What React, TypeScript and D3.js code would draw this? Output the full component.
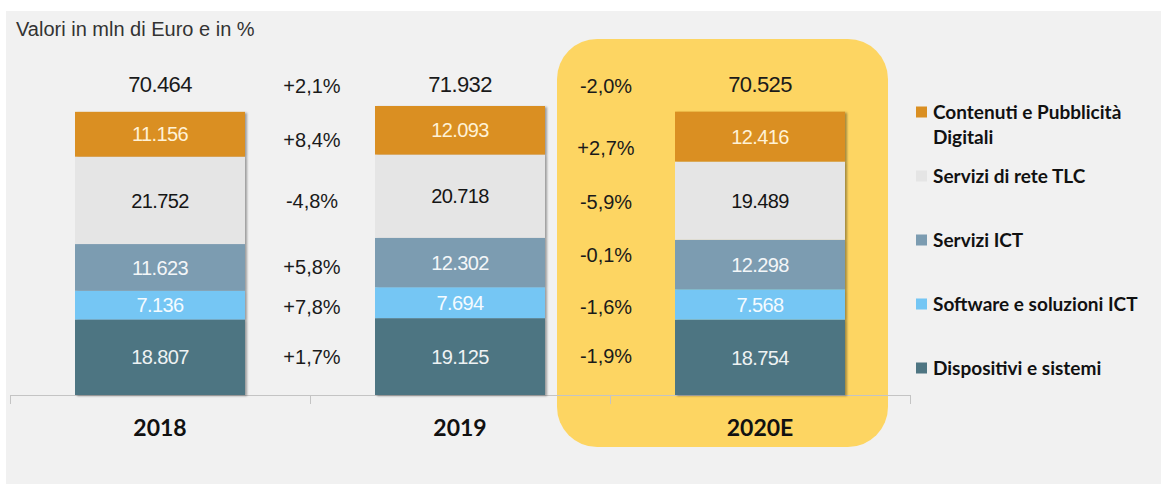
import React from 'react';
import * as d3 from 'd3';

const years = ['2018', '2019', '2020E'];
const segments = [
  'Dispositivi e sistemi',
  'Software e soluzioni ICT',
  'Servizi ICT',
  'Servizi di rete TLC',
  'Contenuti e Pubblicità Digitali',
];
const dispositivi = [18807, 19125, 18754];
const software = [7136, 7694, 7568];
const serviziICT = [11623, 12302, 12298];
const reteTLC = [21752, 20718, 19489];
const contenuti = [11156, 12093, 12416];
const totals = [70464, 71932, 70525];

const totalGrowth = ['+2,1%', '-2,0%'];
// per segment, bottom to top
const growth2019 = ['+1,7%', '+7,8%', '+5,8%', '-4,8%', '+8,4%'];
const growth2020 = ['-1,9%', '-1,6%', '-0,1%', '-5,9%', '+2,7%'];

const colors = ['#4e7582', '#74c6f4', '#7c9cb1', '#e5e5e5', '#da8f22'];
const labelColors = ['#eef2f3', '#f4fbff', '#f3f6f8', '#151515', '#fff2d6'];
// small hand nudges of the growth labels, bottom to top
const growthNudge = [
  [0, 3, 2, 3, 8],
  [-1, 3, -9, 3, 14],
];

const W = 1161;
const H = 484;

export default function App() {
  const series = [dispositivi, software, serviziICT, reteTLC, contenuti];
  const rows = years.map((yr, i) => {
    const r: any = { year: yr };
    segments.forEach((s, k) => (r[s] = series[k][i]));
    return r;
  });
  const stacked = d3.stack().keys(segments)(rows);

  const x = d3.scaleBand().domain(years).range([10, 910]).padding(0);
  const y = d3.scaleLinear().domain([0, d3.max(totals)!]).range([395, 106]);
  const barW = 170;
  const cx = (yr: string) => x(yr)! + x.bandwidth() / 2;
  const fmt = d3.formatLocale({ decimal: ',', thousands: '.', grouping: [3], currency: ['€', ''] }).format(',d');

  const numFont = '"Liberation Sans", Arial, Helvetica, sans-serif';
  const boldFont = 'Lato, "Open Sans", sans-serif';

  const center = (k: number, i: number) => {
    const d = stacked[k][i];
    return (y(d[0]) + y(d[1])) / 2;
  };

  const growthCols = [growth2019, growth2020];
  const legendY = d3.scalePoint<string>().domain([...segments].reverse()).range([112, 368]);

  return (
    <svg width={W} height={H} style={{ position: 'absolute', left: 0, top: 0 }} fontFamily={numFont}>
      <defs>
        <filter id="sh" x="-10%" y="-10%" width="130%" height="130%">
          <feDropShadow dx="2" dy="1" stdDeviation="1.2" floodColor="#000" floodOpacity="0.35" />
        </filter>
      </defs>
      <rect width={W} height={H} fill="#ffffff" />
      <rect x={6} y={11} width={W - 6} height={H - 11} fill="#f1f1f1" />

      <rect x={x('2020E')! - 53} y={39} width={331} height={408} rx={40} fill="#fdd562" />

      <text x={16} y={36} fontSize={20} fill="#333">Valori in mln di Euro e in %</text>

      {/* axis */}
      <line x1={10} x2={910} y1={395.5} y2={395.5} stroke="#c4c4c4" strokeWidth={1} />
      {[...years.map((yr) => x(yr)!), 910].map((t, i) => (
        <line key={i} x1={t + 0.5} x2={t + 0.5} y1={395} y2={404} stroke="#c4c4c4" />
      ))}

      {/* bars */}
      {years.map((yr, i) => (
        <g key={yr}>
          <g filter="url(#sh)">
            {stacked.map((s, k) => (
              <rect
                key={k}
                x={cx(yr) - barW / 2}
                y={y(s[i][1])}
                width={barW}
                height={y(s[i][0]) - y(s[i][1])}
                fill={colors[k]}
              />
            ))}
          </g>
          {stacked.map((s, k) => (
            <text
              key={k}
              x={cx(yr)}
              y={center(k, i)}
              dy="0.36em"
              textAnchor="middle"
              fontSize={20}
              letterSpacing={-0.6}
              fill={labelColors[k]}
            >
              {fmt(series[k][i])}
            </text>
          ))}
          <text x={cx(yr)} y={84} dy="0.36em" textAnchor="middle" fontSize={22} letterSpacing={-0.6} fill="#1a1a1a">
            {fmt(totals[i])}
          </text>
          <text
            x={cx(yr)}
            y={428}
            dy="0.36em"
            textAnchor="middle"
            fontFamily={boldFont}
            fontWeight={700}
            fontSize={23}
            fill="#111"
          >
            {yr}
          </text>
        </g>
      ))}

      {/* growth */}
      {growthCols.map((col, c) => {
        const gx = (cx(years[c]) + cx(years[c + 1])) / 2 - (c === 1 ? 4 : -2);
        return (
          <g key={c}>
            <text x={gx} y={86} dy="0.36em" textAnchor="middle" fontSize={20} fill="#1a1a1a">
              {totalGrowth[c]}
            </text>
            {col.map((g, k) => (
              <text
                key={k}
                x={gx}
                y={(center(k, c) + center(k, c + 1)) / 2 + growthNudge[c][k]}
                dy="0.36em"
                textAnchor="middle"
                fontSize={20}
                fill="#1a1a1a"
              >
                {g}
              </text>
            ))}
          </g>
        );
      })}

      {/* legend */}
      {segments.map((s, k) => {
        const ly = legendY(s)!;
        const lines = k === 4 ? ['Contenuti e Pubblicità', 'Digitali'] : [s];
        return (
          <g key={s}>
            <rect x={916} y={ly - 5.5} width={11} height={11} fill={colors[k]} />
            {lines.map((ln, j) => (
              <text
                key={j}
                x={933}
                y={ly + j * 25}
                dy="0.36em"
                fontFamily={boldFont}
                fontWeight={700}
                fontSize={19}
                fill="#111"
              >
                {ln}
              </text>
            ))}
          </g>
        );
      })}
    </svg>
  );
}
